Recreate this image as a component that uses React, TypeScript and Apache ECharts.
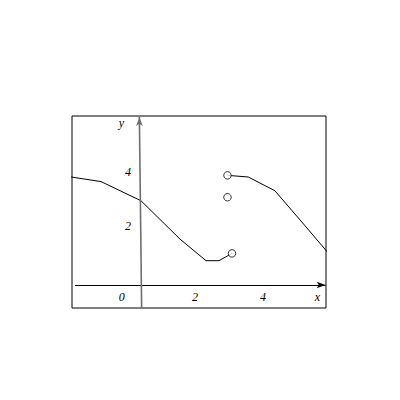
import React, { useEffect, useRef } from "react";
import * as echarts from "echarts";

// Data (in plot units; x-axis at y=0, y-axis at x=0)
const leftCurve: [number, number][] = [
  [-2.15, 4.0],
  [-1.23, 3.83],
  [0, 3.12],
  [1.2, 1.7],
  [2.0, 0.9],
  [2.4, 0.9],
  [2.8, 1.17],
];
const rightCurve: [number, number][] = [
  [2.66, 4.06],
  [3.3, 4.0],
  [4.12, 3.49],
  [5.05, 2.19],
  [5.75, 1.2],
];
const openPoints: [number, number][] = [
  [2.8, 1.17],
  [2.66, 4.06],
  [2.66, 3.25],
];
const xTickLabels = ["0", "2", "4"];
const yTickLabels = ["4", "2"];
const xAxisName = "x";
const yAxisName = "y";

const X_MIN = -2.123;
const X_MAX = 5.692;
const Y_MIN = -0.852;
const Y_MAX = 6.259;

export default function App() {
  const ref = useRef<HTMLDivElement>(null);
  useEffect(() => {
    if (!ref.current) return;
    const chart = echarts.init(ref.current, undefined, { renderer: "svg" });
    const font = "italic 12px 'Liberation Serif', 'DejaVu Serif', serif";
    const xLabelPos = [121.7, 195, 263];
    const yLabelPos = [172.3, 226];
    const graphics: any[] = [];
    xTickLabels.forEach((t, i) =>
      graphics.push({
        type: "text",
        x: xLabelPos[i],
        y: 297,
        silent: true,
        style: { text: t, font, fill: "#000", textAlign: "center", textVerticalAlign: "middle" },
      })
    );
    yTickLabels.forEach((t, i) =>
      graphics.push({
        type: "text",
        x: 128,
        y: yLabelPos[i],
        silent: true,
        style: { text: t, font, fill: "#000", textAlign: "center", textVerticalAlign: "middle" },
      })
    );
    graphics.push({
      type: "text",
      x: 317.5,
      y: 297,
      silent: true,
      style: { text: xAxisName, font, fill: "#000", textAlign: "center", textVerticalAlign: "middle" },
    });
    graphics.push({
      type: "text",
      x: 121.5,
      y: 122.5,
      silent: true,
      style: { text: yAxisName, font, fill: "#000", textAlign: "center", textVerticalAlign: "middle" },
    });

    chart.setOption({
      animation: false,
      backgroundColor: "#fff",
      grid: {
        left: 72,
        top: 116,
        width: 254,
        height: 192,
        show: true,
        borderColor: "#000",
        borderWidth: 1,
        backgroundColor: "transparent",
      },
      xAxis: { type: "value", min: X_MIN, max: X_MAX, show: false },
      yAxis: { type: "value", min: Y_MIN, max: Y_MAX, show: false },
      graphic: graphics,
      series: [
        {
          type: "line",
          data: [],
          silent: true,
          markLine: {
            silent: true,
            animation: false,
            symbol: ["none", "arrow"],
            symbolSize: [5, 9],
            label: { show: false },
            data: [
              [
                { coord: [-2.03, 0], lineStyle: { color: "#000", width: 1, type: "solid" } },
                { coord: [5.68, 0] },
              ],
              [
                { coord: [0.02, Y_MIN], lineStyle: { color: "#6e6e6e", width: 1.6, type: "solid" } },
                { coord: [-0.05, 6.22] },
              ],
            ],
          },
        },
        {
          type: "line",
          data: leftCurve,
          showSymbol: false,
          lineStyle: { color: "#000", width: 1 },
          clip: true,
          silent: true,
          z: 3,
        },
        {
          type: "line",
          data: rightCurve,
          showSymbol: false,
          lineStyle: { color: "#000", width: 1 },
          clip: true,
          silent: true,
          z: 3,
        },
        {
          type: "scatter",
          data: openPoints,
          symbol: "circle",
          symbolSize: 7.5,
          itemStyle: { color: "#fff", borderColor: "#000", borderWidth: 1 },
          silent: true,
          z: 5,
        },
      ],
    });
    return () => chart.dispose();
  }, []);
  return (
    <div
      ref={ref}
      style={{ position: "absolute", left: 0, top: 0, width: 400, height: 400 }}
    />
  );
}
